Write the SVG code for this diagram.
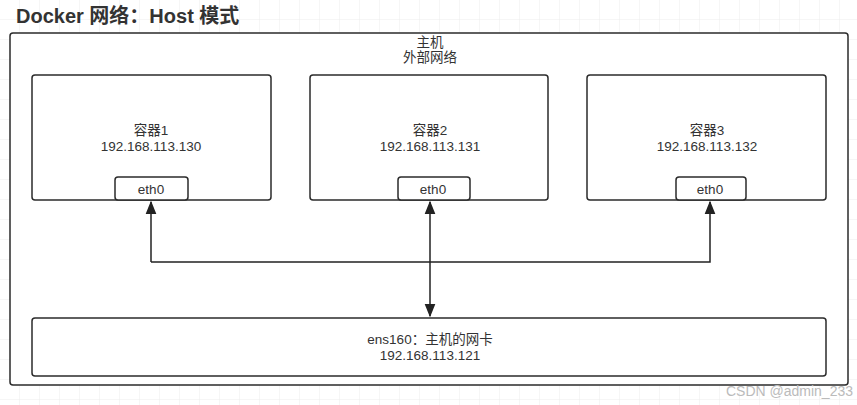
<svg xmlns="http://www.w3.org/2000/svg" width="857" height="405" viewBox="0 0 857 405">
<defs>
<pattern id="g" width="20" height="20" patternUnits="userSpaceOnUse"><path d="M20 0V20H0" fill="none" stroke="#ececec" stroke-width="1"/></pattern>
<marker id="a" viewBox="0 0 10 10" refX="9" refY="5" markerWidth="9" markerHeight="9" orient="auto-start-reverse"><path d="M0 1L10 5L0 9Z" fill="#222"/></marker>
<style>
.b{fill:#fff;stroke:#2b2b2b;stroke-width:1.5}
.t{font-family:"Liberation Sans","Noto Sans CJK SC",sans-serif;font-size:13.5px;fill:#333;text-anchor:middle}
.c{fill:none;stroke:#222;stroke-width:1.5}
</style>
</defs>
<rect width="857" height="405" fill="#fff"/>
<rect width="857" height="405" fill="url(#g)"/>
<text x="16" y="23" style="font-family:'Liberation Sans','Noto Sans CJK SC',sans-serif;font-size:20px;font-weight:bold;fill:#333">Docker 网络：Host 模式</text>
<g id="host"><rect class="b" x="10" y="33" width="838" height="352" rx="3"/><text class="t" x="430" y="47">主机</text><text class="t" x="430" y="62">外部网络</text></g>
<g id="c1"><rect class="b" x="32" y="75" width="239" height="125" rx="3"/><text class="t" x="151" y="135">容器1</text><text class="t" x="151" y="151">192.168.113.130</text></g>
<g id="e1"><rect class="b" x="115" y="177" width="73" height="23" rx="3"/><text class="t" x="151" y="194">eth0</text></g>
<g id="c2"><rect class="b" x="310" y="75" width="238" height="125" rx="3"/><text class="t" x="430" y="135">容器2</text><text class="t" x="430" y="151">192.168.113.131</text></g>
<g id="e2"><rect class="b" x="398" y="177" width="72" height="23" rx="3"/><text class="t" x="433" y="194">eth0</text></g>
<g id="c3"><rect class="b" x="587" y="75" width="239" height="125" rx="3"/><text class="t" x="707" y="135">容器3</text><text class="t" x="707" y="151">192.168.113.132</text></g>
<g id="e3"><rect class="b" x="676" y="177" width="70" height="23" rx="3"/><text class="t" x="710" y="194">eth0</text></g>
<g id="nic"><rect class="b" x="32" y="318" width="794" height="58" rx="3"/><text class="t" x="430" y="344">ens160：主机的网卡</text><text class="t" x="430" y="360">192.168.113.121</text></g>
<g id="connectors">
<path class="c" d="M151 262V202" marker-end="url(#a)"/>
<path class="c" d="M151 262H710V202" marker-end="url(#a)"/>
<path class="c" d="M430 202V316" marker-start="url(#a)" marker-end="url(#a)"/>
</g>
<text x="853" y="396" style="font-family:'Liberation Sans',sans-serif;font-size:14px;fill:#bbb;text-anchor:end">CSDN @admin_233</text>
</svg>
